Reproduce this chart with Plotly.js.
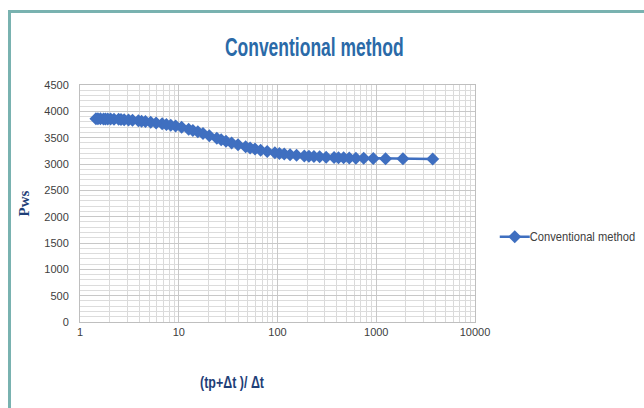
<!DOCTYPE html>
<html>
<head>
<meta charset="utf-8">
<script src="https://cdn.plot.ly/plotly-3.0.1.min.js"></script>
<style>
  html, body { margin: 0; padding: 0; background: #ffffff; }
  #frame { position: absolute; left: 8px; top: 10px; width: 660px; height: 420px;
           border-left: 3px solid #79b2b0; border-top: 3px solid #79b2b0; box-sizing: border-box; }
  #chart { position: absolute; left: 0; top: 0; width: 644px; height: 408px; }
</style>
</head>
<body>
<div id="frame"></div>
<div id="chart"></div>
<script>
// Horner buildup: time ratio (tp+Δt)/Δt and shut-in pressure Pws
const hornerRatio = [3727, 1864, 1243, 932.5, 746, 622, 533, 467, 415, 374,
  311, 267, 234, 208, 187, 156, 134, 117, 104.5, 94,
  78.6, 67.5, 59.2, 52.8, 47.6, 39.8, 34.3, 30.1, 26.9, 24.3,
  20.4, 17.6, 15.6, 13.9, 12.6, 10.7, 9.3, 8.3, 7.5, 6.8,
  5.9, 5.2, 4.6, 4.2, 3.9, 3.4, 3.1, 2.8, 2.6, 2.46,
  2.21, 2.04, 1.91, 1.81, 1.73, 1.61, 1.52, 1.45];
const pws = [3095, 3099, 3102, 3105, 3108, 3111, 3114, 3117, 3120, 3124,
  3130, 3136, 3142, 3148, 3154, 3165, 3176, 3188, 3200, 3212,
  3236, 3260, 3284, 3306, 3328, 3366, 3400, 3432, 3462, 3490,
  3538, 3578, 3610, 3638, 3660, 3696, 3720, 3738, 3752, 3764,
  3780, 3794, 3806, 3814, 3820, 3830, 3836, 3841, 3845, 3848,
  3851, 3853, 3854, 3855, 3856, 3857, 3858, 3858];
const seriesName = 'Conventional method';
const xTicks = [1, 10, 100, 1000, 10000];
const xTickText = ['1', '10', '100', '1000', '10000'];

const sans = "'Liberation Sans', Arial, sans-serif";
const blue = '#3f6fc0';
const navy = '#1f3f78';

const trace = {
  x: hornerRatio, y: pws, type: 'scatter', mode: 'lines+markers', name: seriesName,
  line: { color: blue, width: 2.5 },
  marker: { symbol: 'diamond', size: 10, color: blue }
};

const layout = {
  width: 644, height: 408,
  paper_bgcolor: 'rgba(0,0,0,0)', plot_bgcolor: '#ffffff',
  margin: { l: 80, r: 169, t: 85, b: 86, autoexpand: false },
  title: { text: '<b>Conventional method</b>', x: 0.488, xanchor: 'center', y: 0.885, yanchor: 'middle',
           font: { family: sans, size: 25, color: '#2a6aa8' } },
  xaxis: {
    type: 'log', range: [0, 4], tickvals: xTicks, ticktext: xTickText,
    showgrid: true, gridcolor: '#c8c8c8', gridwidth: 1,
    minor: { dtick: 'D1', showgrid: true, gridcolor: '#dadada', gridwidth: 1 },
    showline: true, linecolor: '#bfbfbf', mirror: true, zeroline: false,
    ticks: '', tickfont: { family: sans, size: 11, color: '#404040' }
  },
  yaxis: {
    range: [0, 4500], dtick: 500,
    showgrid: true, gridcolor: '#c8c8c8', gridwidth: 1,
    minor: { dtick: 100, showgrid: true, gridcolor: '#dcdcdc', gridwidth: 1 },
    showline: true, linecolor: '#bfbfbf', mirror: true, zeroline: false,
    ticks: '', ticklabelstandoff: 8, tickfont: { family: sans, size: 11, color: '#404040' },
    title: { text: '<b>Pws</b>', standoff: 11, font: { family: "'Liberation Serif', 'DejaVu Serif', serif", size: 15, color: navy } }
  },
  annotations: [{
    text: '<b>(tp+Δt )/ Δt</b>', xref: 'paper', yref: 'paper', x: 0.385, y: -0.257,
    xanchor: 'center', yanchor: 'middle', showarrow: false,
    font: { family: sans, size: 16, color: navy }
  }],
  showlegend: true,
  legend: { x: 1.05, y: 0.36, xanchor: 'left', yanchor: 'middle', bgcolor: 'rgba(0,0,0,0)',
            itemwidth: 30, font: { family: sans, size: 12, color: '#404040' } }
};

// Condense a centred text element horizontally about its anchor
function condense(el, k) {
  if (!el) return;
  const cx = parseFloat(el.getAttribute('x')) || 0;
  el.setAttribute('transform', `translate(${cx},0) scale(${k},1) translate(${-cx},0)`);
}

Plotly.newPlot('chart', [trace], layout, { displayModeBar: false, staticPlot: true }).then(gd => {
  condense(gd.querySelector('.gtitle'), 0.7);
  condense(gd.querySelector('.annotation-text'), 0.78);
  // pull the legend label a little closer to its symbol and narrow it slightly
  gd.querySelectorAll('.legendtext').forEach(t => {
    const x0 = parseFloat(t.getAttribute('x')) || 0;
    t.setAttribute('transform', `translate(${x0 - 5},0) scale(0.93,1) translate(${-x0},0)`);
  });
});
</script>
</body>
</html>
